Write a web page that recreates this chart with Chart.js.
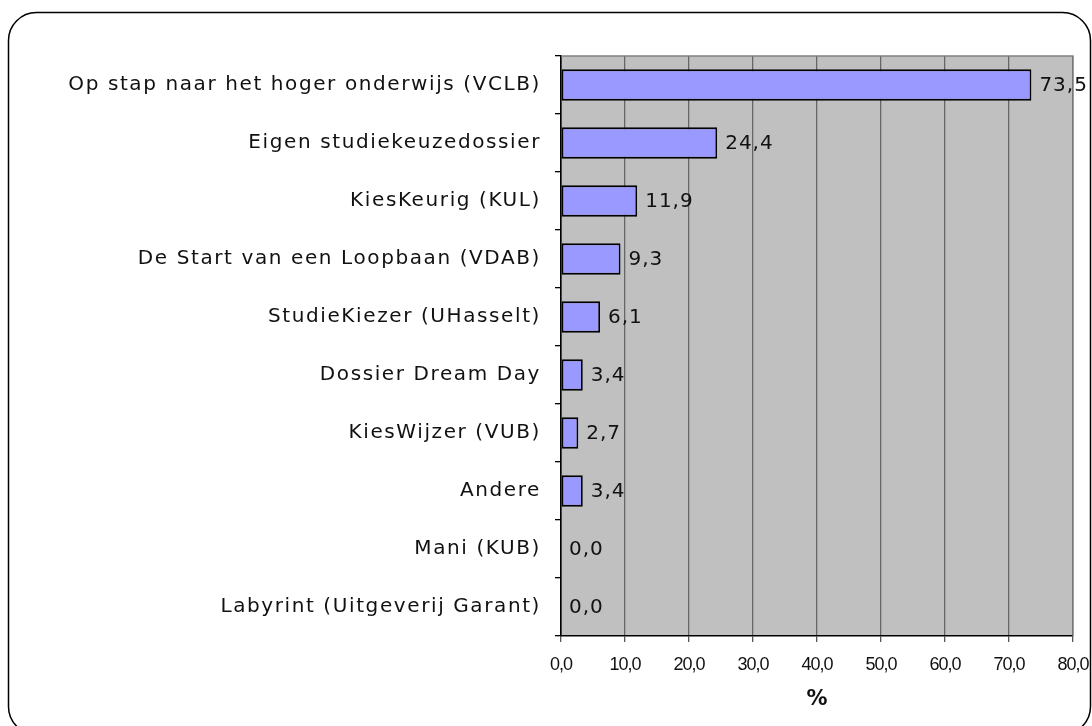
<!DOCTYPE html>
<html>
<head>
<meta charset="utf-8">
<script src="https://cdn.jsdelivr.net/npm/chart.js@4/dist/chart.umd.min.js"></script>
<style>
  html, body { margin: 0; padding: 0; background: #fff; }
  #wrap { width: 1092px; height: 726px; }
</style>
</head>
<body>
<div id="wrap"><canvas id="chart" width="1092" height="726"></canvas></div>
<script>
// ====== Data ======
const categories = [
  'Op stap naar het hoger onderwijs (VCLB)',
  'Eigen studiekeuzedossier',
  'KiesKeurig (KUL)',
  'De Start van een Loopbaan (VDAB)',
  'StudieKiezer (UHasselt)',
  'Dossier Dream Day',
  'KiesWijzer (VUB)',
  'Andere',
  'Mani (KUB)',
  'Labyrint (Uitgeverij Garant)'
];
const percentages = [73.5, 24.4, 11.9, 9.3, 6.1, 3.4, 2.7, 3.4, 0.0, 0.0];
const xTicks = [0, 10, 20, 30, 40, 50, 60, 70, 80];

const fmt = v => Number(v).toFixed(1).replace('.', ',');

// wrap a scale's label drawing so it uses its own letter spacing
function spaced(scale, sp) {
  if (scale._spaced) return;
  scale._spaced = true;
  const orig = scale.drawLabels;
  scale.drawLabels = function (area) {
    const ctx = this.ctx;
    ctx.save();
    ctx.letterSpacing = sp;
    orig.call(this, area);
    ctx.restore();
  };
}

// ====== Plugins ======
// rounded frame + grey plot area
const frame = {
  id: 'frame',
  beforeDraw(chart) {
    const {ctx, chartArea: a} = chart;
    ctx.save();
    ctx.fillStyle = '#fff';
    ctx.fillRect(0, 0, chart.width, chart.height);
    ctx.beginPath();
    ctx.roundRect(8.5, 12.5, 1082, 722, 28);
    ctx.strokeStyle = '#000';
    ctx.lineWidth = 1.5;
    ctx.stroke();
    ctx.fillStyle = '#c0c0c0';
    ctx.fillRect(a.left, a.top, a.right - a.left, a.bottom - a.top);
    ctx.restore();
  },
  beforeDatasetsDraw(chart) {
    const {ctx, chartArea: a} = chart;
    ctx.save();
    ctx.strokeStyle = '#808080';
    ctx.lineWidth = 1.3;
    ctx.beginPath();
    ctx.moveTo(a.left, a.top);
    ctx.lineTo(a.right, a.top);
    ctx.lineTo(a.right, a.bottom);
    ctx.stroke();
    ctx.restore();
  }
};

// value labels at the end of each bar
const valueLabels = {
  id: 'valueLabels',
  afterDatasetsDraw(chart) {
    const {ctx} = chart;
    const meta = chart.getDatasetMeta(0);
    ctx.save();
    ctx.letterSpacing = '1px';
    ctx.font = '20px "DejaVu Sans"';
    ctx.fillStyle = '#111';
    ctx.textAlign = 'left';
    ctx.textBaseline = 'middle';
    meta.data.forEach((bar, i) => {
      ctx.fillText(fmt(percentages[i]), bar.x + 8, bar.y + 1);
    });
    ctx.restore();
  }
};

// ====== Chart ======
const chart = new Chart(document.getElementById('chart'), {
  type: 'bar',
  data: {
    labels: categories,
    datasets: [{
      data: percentages,
      backgroundColor: '#9999ff',
      borderColor: '#000',
      borderWidth: 1.8,
      borderSkipped: false,
      categoryPercentage: 1,
      barPercentage: 0.54
    }]
  },
  options: {
    indexAxis: 'y',
    responsive: false,
    animation: false,
    events: [],
    layout: { padding: { left: 0, top: 56, right: 19, bottom: 0 } },
    plugins: { legend: { display: false }, tooltip: { enabled: false } },
    scales: {
      x: {
        min: 0, max: 80,
        afterBuildTicks: s => { s.ticks = xTicks.map(v => ({ value: v })); },
        afterFit: s => {
          s.height = 90;
          s.paddingLeft = 0;
          s.paddingRight = 0;
          spaced(s, '-1px');
        },
        grid: { color: '#666', lineWidth: 1.3, tickLength: 6, tickColor: '#555' },
        border: { color: '#000', width: 1.6 },
        ticks: {
          callback: v => fmt(v),
          color: '#111',
          padding: 12,
          maxRotation: 0,
          font: { family: '"Liberation Sans"', size: 18 }
        },
        title: {
          display: true,
          text: '%',
          color: '#111',
          padding: { top: 0, bottom: 14 },
          font: { family: '"DejaVu Sans"', size: 21, weight: 'bold' }
        }
      },
      y: {
        afterFit: s => {
          s.width = 561;
          spaced(s, '1.6px');
        },
        grid: { drawOnChartArea: false, color: '#000', tickLength: 6, lineWidth: 1.3, offset: true },
        border: { color: '#000', width: 1.6 },
        ticks: {
          color: '#111',
          padding: 14,
          font: { family: '"DejaVu Sans"', size: 20 }
        }
      }
    }
  },
  plugins: [frame, valueLabels]
});
</script>
</body>
</html>
